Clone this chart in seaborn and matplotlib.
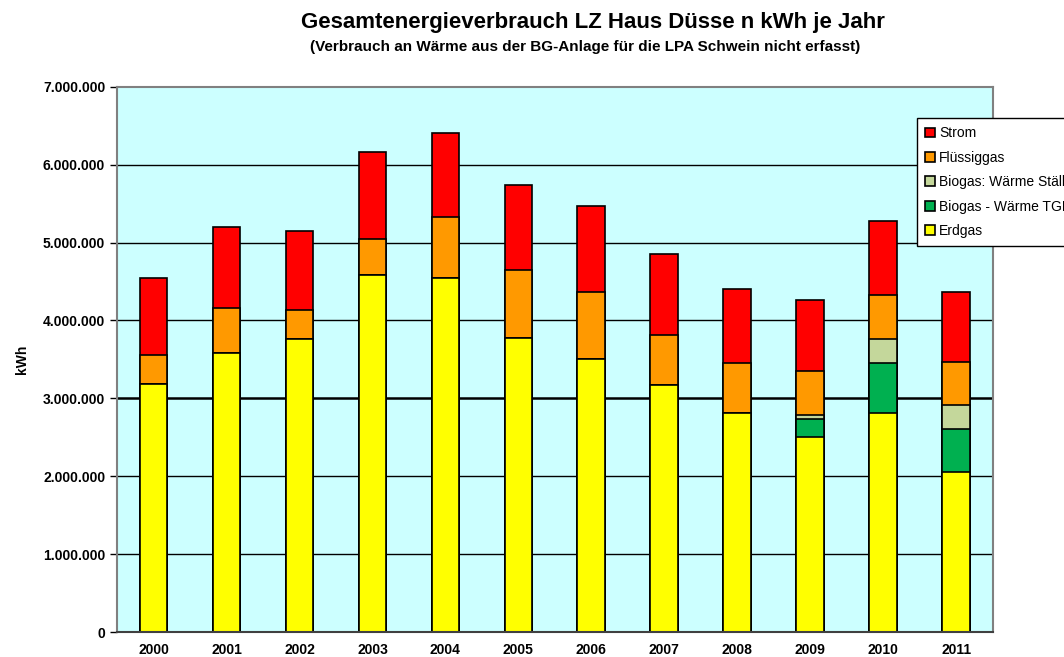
import numpy as np
import pandas as pd
import seaborn as sns
import matplotlib.pyplot as plt
from matplotlib.ticker import FuncFormatter, FixedLocator

# Data Setting
years = ['2000', '2001', '2002', '2003', '2004', '2005', '2006', '2007', '2008', '2009', '2010', '2011']
erdgas = np.array([3.18, 3.58, 3.76, 4.58, 4.54, 3.77, 3.51, 3.17, 2.81, 2.50, 2.81, 2.06]) * 1e6
biogas_tgh = np.array([0, 0, 0, 0, 0, 0, 0, 0, 0, 0.23, 0.64, 0.54]) * 1e6
biogas_staelle = np.array([0, 0, 0, 0, 0, 0, 0, 0, 0, 0.06, 0.31, 0.31]) * 1e6
fluessiggas = np.array([0.38, 0.58, 0.38, 0.47, 0.79, 0.88, 0.85, 0.64, 0.64, 0.56, 0.56, 0.55]) * 1e6
strom = np.array([0.99, 1.04, 1.01, 1.11, 1.07, 1.09, 1.11, 1.04, 0.95, 0.91, 0.96, 0.91]) * 1e6

series = [('Strom', strom, '#FF0000'),
          ('Flüssiggas', fluessiggas, '#FF9900'),
          ('Biogas: Wärme Ställe', biogas_staelle, '#C4D79B'),
          ('Biogas - Wärme TGH', biogas_tgh, '#00B050'),
          ('Erdgas', erdgas, '#FFFF00')]

# cumulative tops, drawn from the top layer down so each overlays the previous
layers = [erdgas, biogas_tgh, biogas_staelle, fluessiggas, strom]
cum = np.cumsum(layers, axis=0)[::-1]
df = pd.DataFrame({'year': years})
for (name, _, _), top in zip(series, cum):
    df[name] = top

# Drawing
sns.set_style("white")
plt.rcParams['font.family'] = ['Liberation Sans', 'DejaVu Sans']
plt.rcParams['text.color'] = 'black'
plt.rcParams['axes.labelcolor'] = 'black'
plt.rcParams['xtick.color'] = 'black'
plt.rcParams['ytick.color'] = 'black'
fig = plt.figure(figsize=(10.64, 6.57), dpi=100)
ax = fig.add_axes([0.110, 0.038, 0.823, 0.830])
ax.set_facecolor('#CCFFFF')

for name, _, color in series:
    sns.barplot(df, x='year', y=name, color=color, saturation=1, width=0.38,
                edgecolor='black', linewidth=1.2, label=name, ax=ax)

ax.set_ylim(0, 7e6)
ax.set_xlim(-0.5, len(years) - 0.5)
ax.set_yticks(np.arange(0, 7e6 + 1, 1e6))
ax.yaxis.set_major_formatter(FuncFormatter(lambda v, p: f'{int(v):,}'.replace(',', '.')))
for v in np.arange(1e6, 7e6, 1e6):
    ax.axhline(v, color='black', lw=1.8 if v == 3e6 else 1.0, zorder=0.5)

ax.xaxis.set_minor_locator(FixedLocator(np.arange(-0.5, len(years), 1)))
ax.tick_params(axis='x', which='major', length=0, pad=8)
ax.tick_params(axis='x', which='minor', length=5, width=1, color='black', direction='out')
ax.tick_params(axis='y', length=5, width=1, color='black', direction='out', left=True)
for lab in ax.get_xticklabels() + ax.get_yticklabels():
    lab.set_fontweight('bold')
    lab.set_fontsize(10)

for s in ax.spines.values():
    s.set_color('#808080')
    s.set_linewidth(1.5)
ax.spines['bottom'].set_color('#404040')

ax.set_xlabel(None)
ax.set_ylabel('kWh', fontweight='bold', fontsize=10, labelpad=10)

fig.text(0.557, 0.965, 'Gesamtenergieverbrauch LZ Haus Düsse n kWh je Jahr',
         ha='center', va='center', fontsize=16, fontweight='bold')
fig.text(0.550, 0.928, '(Verbrauch an Wärme aus der BG-Anlage für die LPA Schwein nicht erfasst)',
         ha='center', va='center', fontsize=11, fontweight='bold')

leg = ax.legend(loc='upper left', bbox_to_anchor=(917 / 1064, (657 - 118) / 657),
                bbox_transform=fig.transFigure, frameon=True, fancybox=False,
                fontsize=10, handlelength=0.7, handleheight=0.7, handletextpad=0.3,
                labelspacing=0.75, borderpad=0.6, borderaxespad=0)
leg.get_frame().set_edgecolor('black')
leg.get_frame().set_linewidth(1.0)
leg.get_frame().set_alpha(1)

plt.savefig('out.png', dpi=100)
